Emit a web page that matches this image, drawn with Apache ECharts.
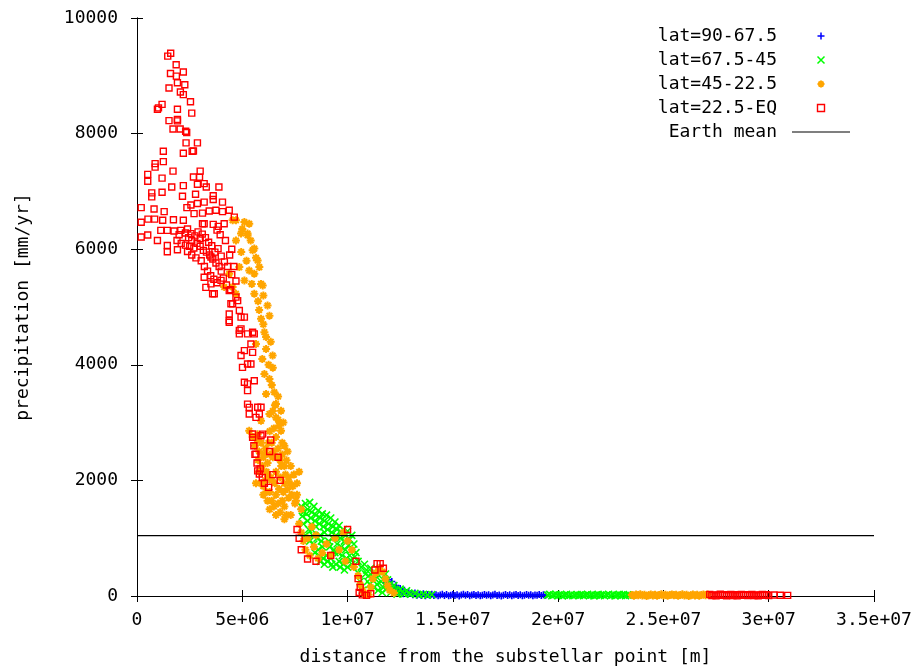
<!DOCTYPE html>
<html>
<head>
<meta charset="utf-8">
<script src="https://cdn.jsdelivr.net/npm/echarts@6/dist/echarts.min.js"></script>
<style>html,body{margin:0;padding:0;background:#fff;}#c{width:917px;height:668px;}</style>
</head>
<body>
<div id="c"></div>
<script>
// x values in units of 1e6 m, y in mm/yr
const xTickLabels = ['0','5e+06','1e+07','1.5e+07','2e+07','2.5e+07','3e+07','3.5e+07'];
const yTickLabels = ['0','2000','4000','6000','8000','10000'];
const seriesNames = ['lat=90-67.5','lat=67.5-45','lat=45-22.5','lat=22.5-EQ','Earth mean'];
const earthMean = 1045;

const blueData = [
[11.80,230],[11.90,280],[12.00,200],[12.10,250],[11.95,150],[12.20,150],[12.30,180],[12.40,110],[12.50,130],[12.60,80],[12.70,100],[12.80,60],[12.90,75],[13.00,45],[13.20,50],[13.40,30],[13.60,40],[13.80,25],[14.00,30],
[11.85,180],[12.05,120],[12.25,90],[12.45,60],[12.65,40],[12.85,30],[13.10,20],[13.30,15],[13.50,10],[13.70,5],[13.90,12],
[14.1,8],[14.2,22],[14.3,5],[14.4,18],[14.5,30],[14.6,10],[14.7,25],[14.8,3],[14.9,15],[15.0,28],[15.1,8],[15.2,20],[15.3,2],[15.4,17],[15.5,30],[15.6,12],[15.7,24],[15.8,4],[15.9,16],[16.0,28],
[16.1,9],[16.2,21],[16.3,3],[16.4,15],[16.5,27],[16.6,11],[16.7,23],[16.8,5],[16.9,18],[17.0,29],[17.1,7],[17.2,19],[17.3,2],[17.4,14],[17.5,26],[17.6,10],[17.7,22],[17.8,4],[17.9,16],[18.0,28],
[18.1,8],[18.2,20],[18.3,3],[18.4,15],[18.5,27],[18.6,11],[18.7,23],[18.8,5],[18.9,17],[19.0,12],[19.1,25],[19.2,8],[19.3,20],[19.4,14]
];

const greenData = [
[7.80,1550],[7.90,1450],[8.00,1600],[8.10,1500],[8.20,1620],[8.30,1450],[8.40,1550],[8.50,1400],[8.60,1480],[8.70,1350],[8.80,1420],[8.90,1300],[9.00,1400],[9.10,1250],[9.20,1350],[9.30,1200],[9.40,1280],[9.50,1150],[9.60,1220],[9.70,1100],[9.80,1150],[9.90,1050],[10.00,1120],[10.10,980],[10.20,1050],[10.30,900],
[7.90,1250],[8.10,1300],[8.30,1150],[8.50,1200],[8.70,1050],[8.90,1100],[9.10,950],[9.30,1000],[9.50,900],[9.70,850],[9.90,800],[10.10,700],
[8.00,1050],[8.20,950],[8.40,900],[8.60,800],[8.80,850],[9.00,700],[9.20,650],[9.40,750],[9.60,600],[9.80,550],[10.00,500],[10.20,550],
[7.85,1380],[8.05,1420],[8.25,1350],[8.45,1300],[8.65,1250],[8.85,1200],[9.05,1150],[9.25,1100],[9.45,1050],[9.65,1000],[9.85,950],[10.05,880],[10.25,800],
[8.15,1150],[8.35,1050],[8.55,1000],[8.75,950],[8.95,900],[9.15,850],[9.35,800],[9.55,750],[9.75,700],[9.95,650],[10.15,620],[8.45,750],[8.65,700],[8.85,650],[9.05,600],[9.25,550],[9.45,550],[9.65,500],[9.85,450],
[8.70,600],[8.90,550],[9.30,500],[10.40,750],[10.50,600],[10.50,400],[10.60,250],[10.70,100],[10.80,550],[10.90,450],[11.00,350],[11.10,480],[11.20,400],[11.30,300],[11.40,200],[11.50,350],[11.60,250],[11.70,150],[11.80,380],[11.90,280],[12.00,200],[12.10,130],[12.20,180],[12.30,100],[12.40,60],[12.50,120],[12.60,70],[12.70,40],[12.80,90],[12.90,50],[13.00,30],[13.20,45],[13.40,20],[13.60,30],[13.80,15],[14.00,25],
[10.35,680],[10.65,500],[10.85,380],[10.95,250],[11.05,200],[11.25,150],[11.45,100],[11.65,60],[11.85,120],[12.05,60],[12.35,30],
[19.5,15],[19.6,28],[19.7,5],[19.8,18],[19.9,30],[20.0,10],[20.1,22],[20.2,3],[20.3,16],[20.4,27],[20.5,9],[20.6,21],[20.7,4],[20.8,14],[20.9,26],[21.0,11],[21.1,23],[21.2,6],[21.3,17],[21.4,29],
[21.5,8],[21.6,20],[21.7,2],[21.8,15],[21.9,27],[22.0,10],[22.1,22],[22.2,5],[22.3,18],[22.4,30],[22.5,9],[22.6,21],[22.7,3],[22.8,16],[22.9,28],[23.0,11],[23.1,24],[23.2,6],[23.3,19],[23.4,13]
];

const orangeData = [
[4.70,6500],[5.10,6470],[5.33,6440],[4.94,6270],[5.25,6270],[4.70,6150],[5.49,5980],[5.73,5805],[5.33,5630],[4.86,5690],[4.38,5575],[5.57,5575],[5.97,5370],[5.10,5460],[4.54,5345],[4.14,5345],[4.70,5230],
[4.54,6500],[5.25,6240],[5.57,6010],[5.81,5690],[5.89,5400],[5.57,5230],[6.20,5025],[6.29,4850],[5.89,4795],[6.05,4565],[6.13,4480],[6.13,4275],[6.44,4160],[5.65,4360],[6.05,3840],[6.29,3755],[6.52,3525],[6.60,3320],[6.84,3205],[6.60,3090],[6.84,2860],[7.00,2600],[6.29,3150],[6.13,3495],[5.33,2860],[5.73,2800],[5.89,3030],
[5.00,6350],[5.40,6150],[5.65,5850],[5.20,5800],[4.95,5950],[5.45,5400],[5.75,5100],[6.00,5200],[5.80,4950],[6.00,4700],[6.35,4400],[5.95,4100],[6.25,4000],[6.45,3950],[6.40,3650],[6.70,3450],[6.55,3300],[6.95,3000],[6.75,2950],
[5.50,2750],[5.60,2600],[5.70,2700],[5.80,2500],[5.90,2650],[6.00,2400],[6.10,2550],[6.20,2300],[6.30,2450],[6.40,2650],[6.50,2500],[6.60,2750],[6.70,2550],[6.80,2350],[6.90,2450],[7.00,2250],[6.20,2100],[6.40,2000],[6.60,2150],[6.80,2050],[7.00,1950],[7.20,2050],[7.40,1900],[7.60,1750],[6.00,1900],[6.30,1800],[6.60,1750],[6.90,1650],[7.20,1700],[7.50,1600],[7.80,1500],[6.50,1550],[6.80,1450],[7.10,1400],[5.80,2150],[6.10,2000],[7.30,2250],[6.50,2900],[6.70,3050],[6.45,3200],[6.30,2850],[7.10,2350],[7.70,2150],[5.75,2350],[5.65,1950],[6.20,1650],[6.00,1750],[6.30,1500],[6.60,1400],[7.00,1330],[7.30,1400],
[5.95,2250],[6.15,2150],[6.35,2050],[6.55,1950],[6.75,1850],[6.95,1800],[7.15,1850],[7.35,1750],[7.55,1650],[6.05,2450],[6.25,2650],[6.45,2400],[6.65,2400],[6.85,2250],[7.05,2100],[7.25,1950],[6.40,1650],[6.70,1600],[7.00,1550],[6.15,1800],[5.90,1950],[6.90,2650],[7.15,2500],[7.45,2100],[7.60,1950],
[7.70,1250],[7.80,1100],[7.90,950],[8.00,800],[8.20,700],[8.40,850],[8.60,650],[8.80,750],[8.10,1000],[8.50,1050],[9.00,900],[9.20,700],[9.40,1000],[9.60,800],[9.80,1100],[10.00,950],[10.20,800],[9.90,600],[10.30,500],[10.50,350],[10.60,200],[10.70,100],[10.80,40],[11.00,20],[11.10,150],[11.20,300],[11.35,400],[11.50,480],[11.65,420],[11.80,300],[11.90,180],[12.00,100],[12.20,50],[8.30,1200],
[23.5,16],[23.6,4],[23.7,26],[23.8,12],[23.9,30],[24.0,8],[24.1,20],[24.2,2],[24.3,15],[24.4,27],[24.5,10],[24.6,22],[24.7,5],[24.8,18],[24.9,29],[25.0,9],[25.1,21],[25.2,3],[25.3,16],[25.4,28],
[25.5,11],[25.6,23],[25.7,6],[25.8,17],[25.9,29],[26.0,8],[26.1,20],[26.2,2],[26.3,14],[26.4,26],[26.5,10],[26.6,22],[26.7,5],[26.8,18],[26.9,28],[27.0,12],[27.1,24]
];

const redData = [
[1.60,9390],[1.46,9340],[1.86,9190],[1.59,9040],[2.20,9065],[1.87,8995],[1.92,8880],[2.27,8845],[1.52,8790],[2.06,8720],[2.20,8675],[2.54,8550],[1.19,8505],[0.97,8420],[1.02,8445],[1.92,8420],[2.60,8355],[1.52,8225],[1.92,8245],[1.92,8220],[1.71,8080],[2.05,8080],[2.31,8040],[2.36,8020],[2.33,7840],[2.87,7840],[2.62,7695],[2.68,7700],[2.20,7660],[1.25,7695],[1.25,7515],[0.86,7480],[0.86,7420],[1.71,7350],[3.00,7350],[0.51,7295],[0.51,7175],[1.19,7230],[2.68,7250],[2.97,7245],[2.87,7125],[3.19,7135],[3.29,7075],[3.89,7075],[1.65,7075],[2.20,7100],
[0.70,6975],[0.70,6905],[1.19,6985],[2.16,6915],[2.78,6950],[3.62,6925],[3.62,6860],[4.06,6815],[2.37,6720],[2.56,6765],[2.87,6790],[3.19,6815],[0.20,6720],[0.81,6695],[1.29,6650],[2.71,6615],[3.11,6625],[3.43,6660],[3.75,6675],[4.06,6650],[4.38,6675],[4.62,6555],[0.20,6465],[0.52,6520],[0.84,6520],[1.22,6500],[1.73,6510],[2.20,6500],[3.11,6440],[3.62,6430],[3.86,6395],[4.14,6440],[0.51,6245],[0.97,6150],[1.13,6325],[1.44,6325],[1.76,6315],[2.08,6325],[2.40,6350],[2.56,6270],[1.44,6065],[1.44,5955],[1.92,5990],[3.51,5865],[0.20,6210],[3.19,6440],
[2.30,6280],[2.45,6200],[2.60,6150],[2.75,6230],[2.90,6300],[3.00,6180],[3.10,6260],[3.25,6200],[3.40,6120],[3.55,6060],[2.50,6050],[2.70,6020],[2.85,6100],[3.00,6050],[3.15,5980],[3.30,5950],[3.45,5900],[3.60,5830],[3.75,5760],[3.90,5700],[4.00,5620],[3.70,5950],[3.85,6010],[4.00,5880],[4.15,5780],[4.30,5700],[4.40,5900],[4.50,6000],[4.20,6150],[3.95,6250],[3.80,6330],[2.30,6070],[2.10,6100],[1.90,6150],[2.00,6250],[2.40,5960],[2.60,5900],[2.80,5850],[3.05,5800],[3.20,5700],[3.35,5620],[3.50,5540],[3.65,5480],[3.80,5420],[4.10,5500],[4.25,5380],[4.45,5300],[4.50,5560],[4.60,5700],[4.70,5450],[3.27,5340],[3.59,5230],[4.38,5285],[4.70,5170],
[3.19,5515],[3.51,5400],[3.67,5230],[3.99,5460],[4.46,5055],[4.38,4880],[4.94,4825],[4.38,4765],[4.78,5110],[4.86,4940],[5.10,4825],[4.86,4595],[5.25,4535],[5.57,4535],[5.10,4245],[5.41,4360],[5.49,4215],[5.01,3955],[5.25,4015],[5.25,3670],[5.57,3725],[5.25,3320],[5.73,3265],[5.33,3150],[5.65,3090],[5.89,3265],[5.97,2800],[5.49,2745],[5.65,2455],[5.73,2165],[5.81,2110],
[4.54,5055],[4.38,4737],[4.94,4622],[4.86,4535],[5.49,4564],[4.94,4160],[5.41,4015],[5.10,3697],[5.25,3553],[5.33,3264],[5.81,3149],[5.49,2802],[5.89,2773],
[5.55,2600],[5.60,2450],[5.70,2300],[5.85,2200],[5.95,2050],[6.05,1950],[6.30,2500],[6.45,2100],[6.25,1880],[6.80,2000],[6.70,2400],[6.35,2700],
[7.60,1150],[7.70,1000],[7.80,800],[8.10,640],[8.50,600],[9.20,700],[10.00,1150],[10.40,600],[10.50,300],[10.60,150],[10.55,60],[10.70,20],[10.90,10],[11.10,40],[11.30,450],[11.40,560],[11.55,560],[11.70,480],
[27.2,28],[27.3,8],[27.4,20],[27.5,3],[27.6,16],[27.7,29],[27.8,10],[27.9,22],[28.0,5],[28.1,18],[28.2,27],[28.3,9],[28.4,21],[28.5,2],[28.6,15],[28.7,26],[28.8,11],[28.9,23],[29.0,6],[29.1,17],[29.2,28],[29.3,8],[29.4,20],[29.5,4],[29.6,16],[29.7,26],[29.8,12],[29.9,22],[30.0,6],[30.25,18],[30.55,12],[30.9,10]
];

const plusPath = 'path://M5,0V10M0,5H10';
const crossPath = 'path://M0,0L10,10M10,0L0,10';
const starPath = 'path://M5,0V10M0,5H10M1.5,1.5L8.5,8.5M8.5,1.5L1.5,8.5';
const squarePath = 'path://M0,0H10V10H0Z';
const linePath = 'path://M0,0H58V1.2H0Z';

const FONT = '"DejaVu Sans Mono", "Liberation Mono", monospace';

function scatter(name, data, path, color, size, bw) {
  return {
    name: name, type: 'scatter', data: data, symbol: path, symbolSize: size,
    large: false, silent: true,
    itemStyle: { color: 'none', borderColor: color, borderWidth: bw, opacity: 1 }
  };
}

const chart = echarts.init(document.getElementById('c'), null, { renderer: 'canvas' });
const axisBase = {
  min: 0, axisLine: { show: true, lineStyle: { color: '#000', width: 1 } },
  axisTick: { show: true, inside: true, length: 6, lineStyle: { color: '#000' } },
  splitLine: { show: false }
};
chart.setOption({
  animation: false,
  backgroundColor: '#fff',
  grid: { left: 137, right: 43, top: 18, bottom: 72, containLabel: false, outerBoundsMode: 'none' },
  xAxis: [
    Object.assign({}, axisBase, {
      type: 'value', max: 35, interval: 5, position: 'bottom',
      axisLabel: { color: '#000', fontFamily: FONT, fontSize: 18, margin: 15,
        formatter: v => xTickLabels[Math.round(v / 5)] },
      name: 'distance from the substellar point [m]', nameLocation: 'middle', nameGap: 52,
      nameTextStyle: { color: '#000', fontFamily: FONT, fontSize: 18 }
    }),
    Object.assign({}, axisBase, {
      type: 'value', max: 35, interval: 5, position: 'top', axisLabel: { show: false }
    })
  ],
  yAxis: [
    Object.assign({}, axisBase, {
      type: 'value', max: 10000, interval: 2000, position: 'left',
      axisLabel: { color: '#000', fontFamily: FONT, fontSize: 18, margin: 19,
        formatter: v => yTickLabels[Math.round(v / 2000)] },
      name: 'precipitation [mm/yr]', nameLocation: 'middle', nameGap: 105, nameRotate: 90,
      nameTextStyle: { color: '#000', fontFamily: FONT, fontSize: 18 }
    }),
    Object.assign({}, axisBase, {
      type: 'value', max: 10000, interval: 2000, position: 'right', axisLabel: { show: false }
    })
  ],
  legend: {
    orient: 'vertical', right: 62, top: 22, align: 'right',
    itemWidth: 58, itemHeight: 7, itemGap: 6,
    textStyle: { color: '#000', fontFamily: FONT, fontSize: 18, padding: [0, 10, 0, 0] },
    data: [
      { name: seriesNames[0], icon: plusPath, itemStyle: { color: 'none', borderColor: '#0000ff', borderWidth: 1.5 } },
      { name: seriesNames[1], icon: crossPath, itemStyle: { color: 'none', borderColor: '#00ff00', borderWidth: 1.5 } },
      { name: seriesNames[2], icon: starPath, itemStyle: { color: 'none', borderColor: '#ffa500', borderWidth: 2 } },
      { name: seriesNames[3], icon: squarePath, itemStyle: { color: 'none', borderColor: '#ff0000', borderWidth: 1.4 } },
      { name: seriesNames[4], icon: linePath, itemStyle: { color: '#000', borderWidth: 0 } }
    ]
  },
  series: [
    scatter(seriesNames[0], blueData, plusPath, '#0000ff', 7, 1.6),
    scatter(seriesNames[1], greenData, crossPath, '#00ff00', 7, 1.6),
    scatter(seriesNames[2], orangeData, starPath, '#ffa500', 8, 2),
    scatter(seriesNames[3], redData, squarePath, '#ff0000', 6, 1.4),
    {
      name: seriesNames[4], type: 'line', symbol: 'none', showSymbol: false, silent: true,
      data: [[0, earthMean], [35, earthMean]],
      lineStyle: { color: '#000', width: 1.2 }, itemStyle: { color: '#000' }
    }
  ]
});
</script>
</body>
</html>
